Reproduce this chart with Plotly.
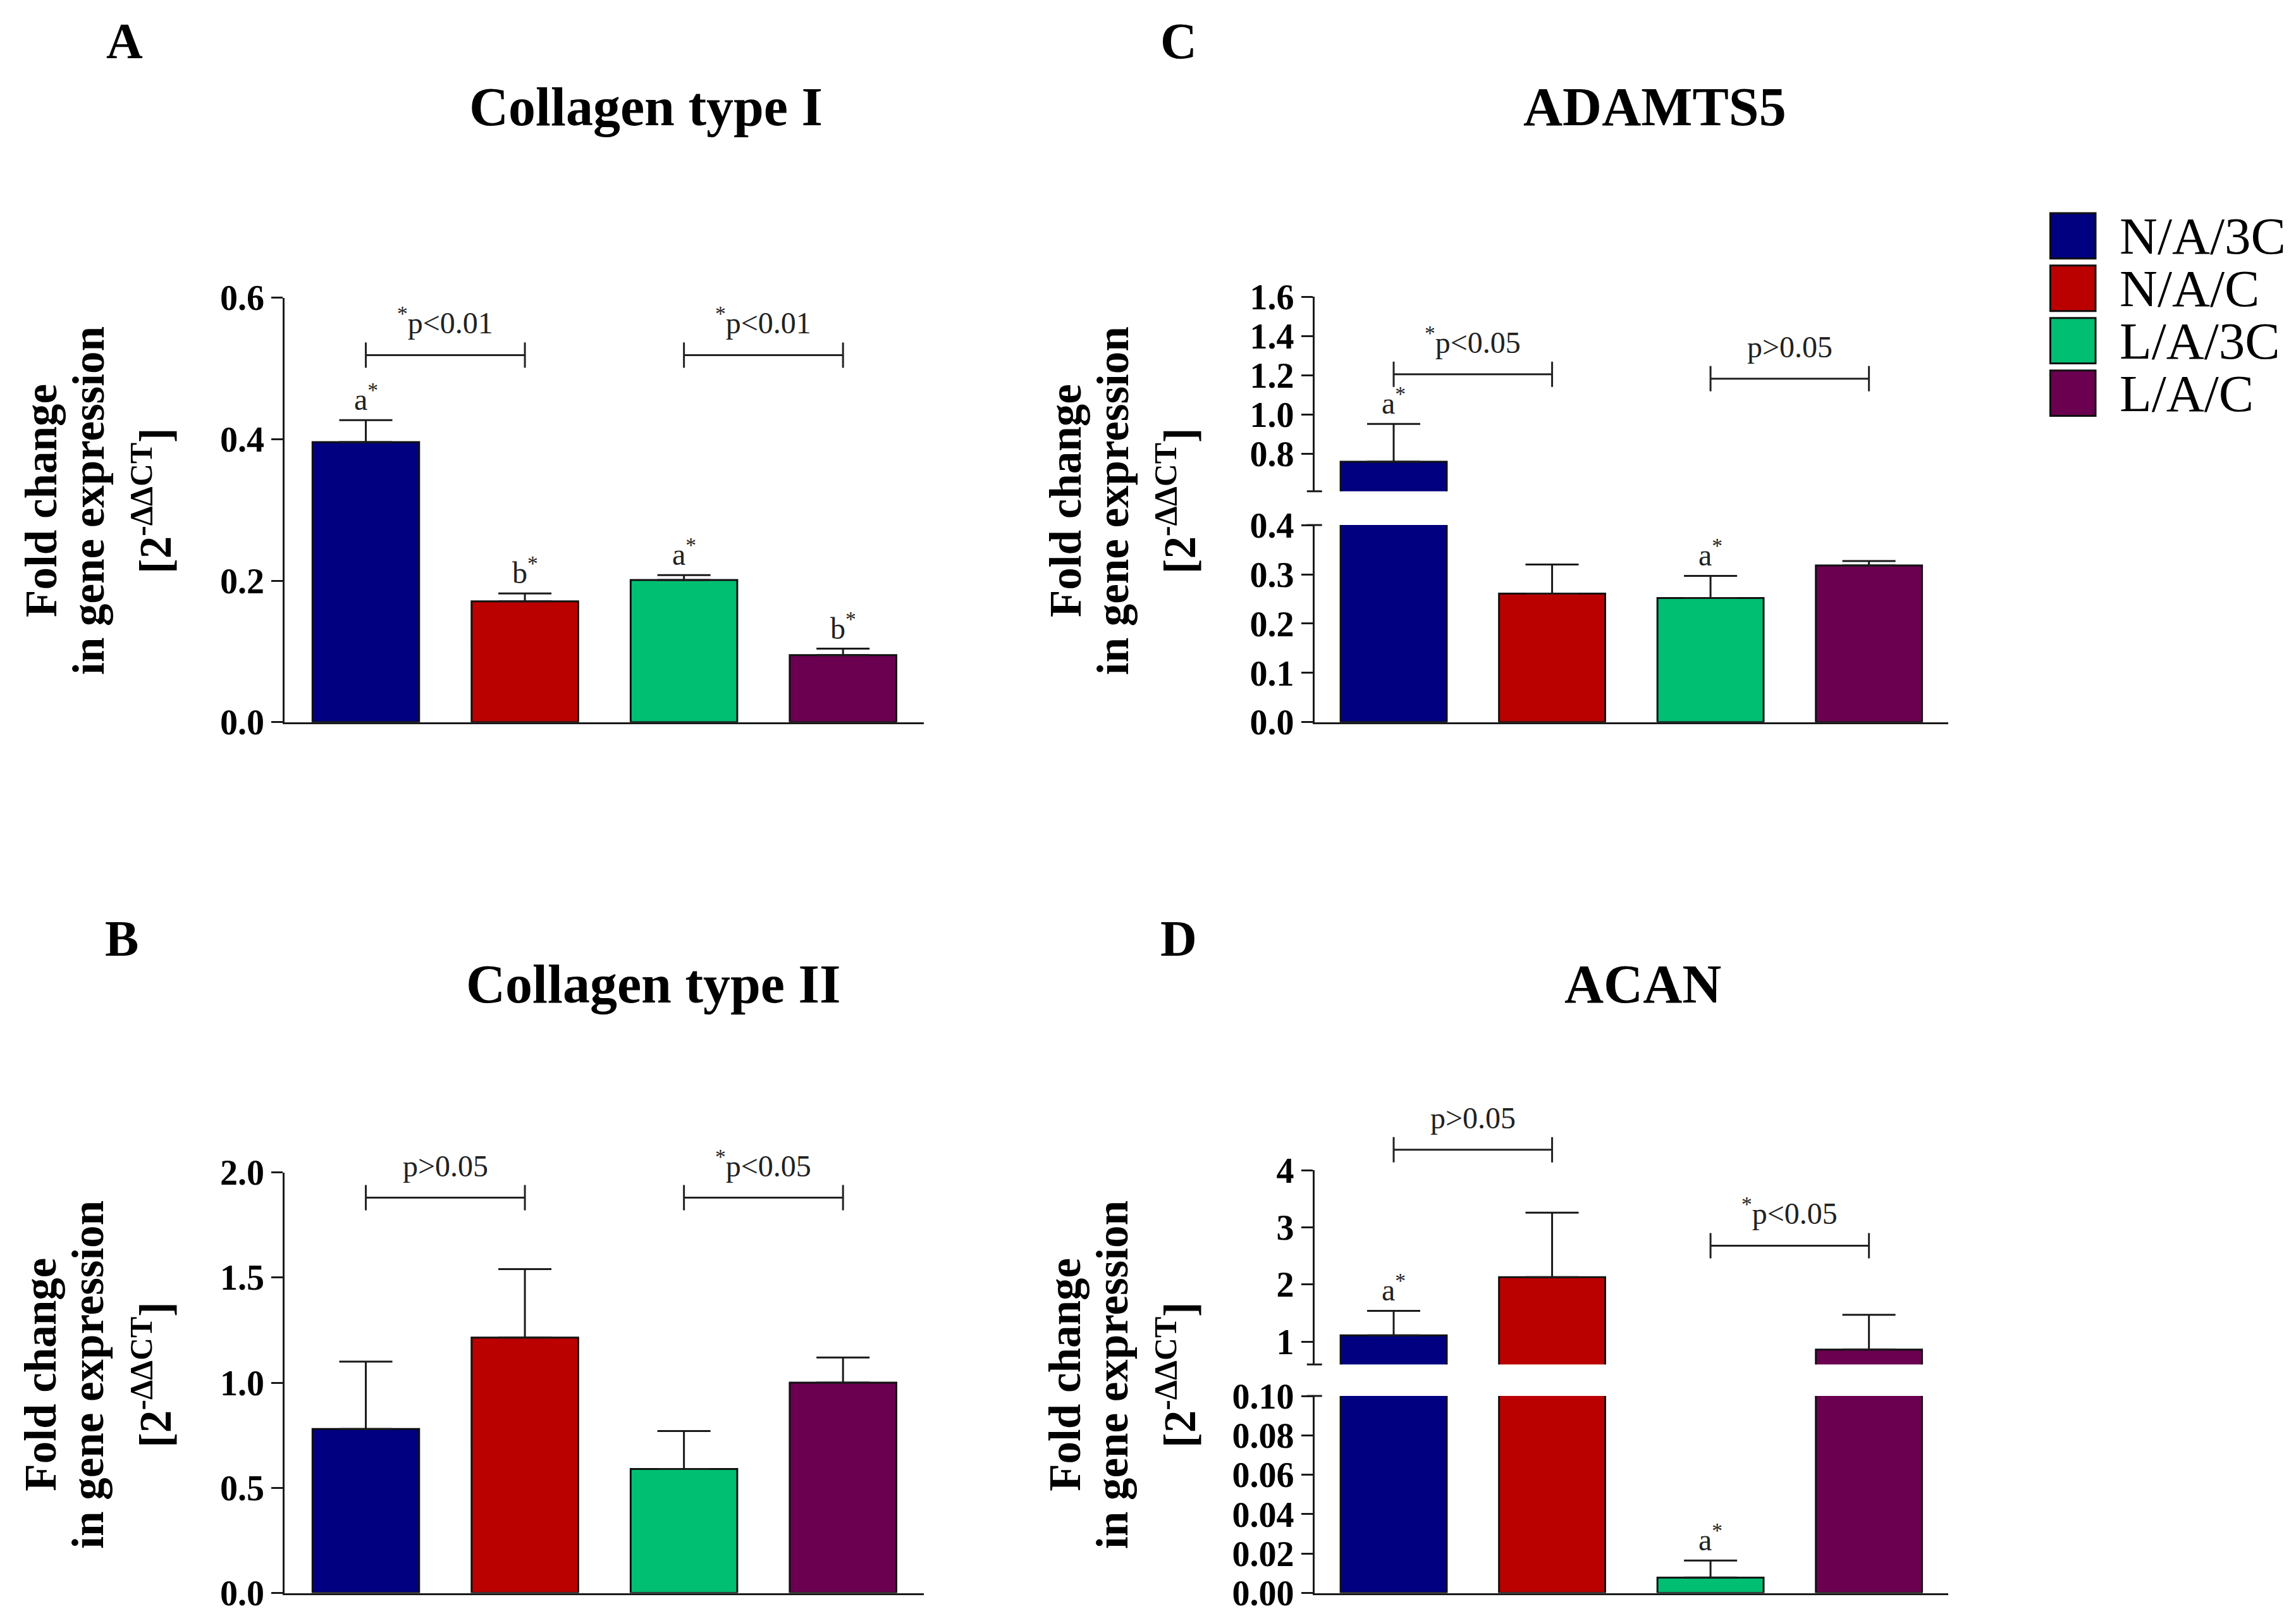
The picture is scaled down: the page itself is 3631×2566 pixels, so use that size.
import plotly.graph_objects as go

# groups and colours
groups = ["N/A/3C", "N/A/C", "L/A/3C", "L/A/C"]
colors = ["#000080", "#BB0000", "#00BF72", "#6B0050"]
positions = [0, 1, 2, 3]

# A - Collagen type I
col1_mean = [0.396, 0.171, 0.201, 0.095]
col1_err = [0.031, 0.011, 0.007, 0.009]
col1_letters = ["a*", "b*", "a*", "b*"]
col1_brackets = [(0, 1, 0.519, "*p<0.01"), (2, 3, 0.519, "*p<0.01")]
col1_ticks = [0.0, 0.2, 0.4, 0.6]

# B - Collagen type II
col2_mean = [0.78, 1.215, 0.59, 1.0]
col2_err = [0.32, 0.325, 0.18, 0.12]
col2_letters = ["", "", "", ""]
col2_brackets = [(0, 1, 1.88, "p>0.05"), (2, 3, 1.88, "*p<0.05")]
col2_ticks = [0.0, 0.5, 1.0, 1.5, 2.0]

# C - ADAMTS5 (broken axis)
adamts5_mean = [0.76, 0.261, 0.252, 0.318]
adamts5_err = [0.193, 0.059, 0.045, 0.009]
adamts5_letters = ["a*", "", "a*", ""]
adamts5_brackets = [(0, 1, 1.205, "*p<0.05"), (2, 3, 1.183, "p>0.05")]
adamts5_ticks_low = [0.0, 0.1, 0.2, 0.3, 0.4]
adamts5_ticks_high = [0.8, 1.0, 1.2, 1.4, 1.6]

# D - ACAN (broken axis)
acan_mean = [1.11, 2.13, 0.0078, 0.86]
acan_err = [0.43, 1.13, 0.0087, 0.61]
acan_letters = ["a*", "", "a*", ""]
acan_brackets = [(0, 1, 4.36, "p>0.05"), (2, 3, 2.68, "*p<0.05")]
acan_ticks_low = [0.0, 0.02, 0.04, 0.06, 0.08, 0.10]
acan_ticks_high = [1, 2, 3, 4]

SERIF = "Liberation Serif"
INK = "#1a1a1a"


def fmt_star(s):
    s = s.replace("<", "&lt;").replace(">", "&gt;")
    if s.startswith("*"):
        s = "<sup>*</sup>" + s[1:]
    if s.endswith("*"):
        s = s[:-1] + "<sup>*</sup>"
    return s


def lay_key(ax):
    return ax[0] + "axis" + ax[1:]


def dom(v, rng):
    return (v - rng[0]) / (rng[1] - rng[0])


fig = go.Figure()
annotations = []
shapes = []


def break_mark(xname, yname, ypos):
    # small tick across the axis line where the axis is broken
    shapes.append(dict(type="line", xref=xname + " domain", yref=yname + " domain",
                       xsizemode="pixel", xanchor=0, x0=-12, x1=12,
                       y0=ypos, y1=ypos, line=dict(color=INK, width=3)))


def add_panel(xname, xdomain, xrange, segments, means, errs, letters, brackets,
              title, title_pos, letter, letter_pos, ytitle_x, ytitle_y):
    # segments: list of (yname, domain, range, tickvals, tickfmt) from bottom up
    low_y = segments[0][0]
    fig.layout[lay_key(xname)] = dict(
        domain=xdomain, range=xrange, anchor=low_y, showline=True,
        linewidth=3, linecolor=INK, ticks="", showticklabels=False,
        showgrid=False, zeroline=False, fixedrange=True, automargin=False,
    )
    for k, (yname, ydomain, yrange, tickvals, tickfmt) in enumerate(segments):
        fig.layout[lay_key(yname)] = dict(
            domain=ydomain, range=yrange, anchor=xname, showline=True,
            linewidth=3, linecolor=INK, ticks="outside", ticklen=18,
            tickwidth=3, tickcolor=INK, tickvals=tickvals,
            ticktext=[tickfmt.format(v) for v in tickvals],
            tickfont=dict(family=SERIF, size=56, color="black", weight="bold"),
            showgrid=False, zeroline=False, fixedrange=True, automargin=False,
        )
        fig.add_trace(go.Bar(
            x=positions, y=means, xaxis=xname, yaxis=yname, width=0.67,
            marker=dict(color=colors, line=dict(color="#111111", width=3)),
            error_y=dict(type="data", array=errs, arrayminus=[0] * len(errs),
                         symmetric=False, color=INK, thickness=3, width=42),
            showlegend=False,
        ))
        if len(segments) > 1:
            if k > 0:
                break_mark(xname, yname, 0)
            if k < len(segments) - 1:
                break_mark(xname, yname, 1)
    # significance letters above the error bars
    for p, m, e, lab in zip(positions, means, errs, letters):
        if not lab:
            continue
        top = m + e
        yname = segments[0][0]
        for seg in segments:
            if seg[2][0] <= top <= seg[2][1]:
                yname = seg[0]
        annotations.append(dict(
            x=p, y=top, xref=xname, yref=yname, text=fmt_star(lab),
            showarrow=False, xanchor="center", yanchor="bottom", yshift=4,
            font=dict(family=SERIF, size=48, color="#222222"),
        ))
    # comparison brackets
    top_seg = segments[-1]
    yref = top_seg[0] + " domain"
    for a, b, h, lab in brackets:
        yd = dom(h, top_seg[2])
        shapes.append(dict(type="line", xref=xname, yref=yref, x0=a, x1=b,
                           y0=yd, y1=yd, line=dict(color="#222222", width=3)))
        for xe in (a, b):
            shapes.append(dict(type="line", xref=xname, yref=yref, x0=xe, x1=xe,
                               ysizemode="pixel", yanchor=yd, y0=-20, y1=20,
                               line=dict(color="#222222", width=3)))
        annotations.append(dict(
            x=(a + b) / 2, y=yd, xref=xname, yref=yref, text=fmt_star(lab),
            showarrow=False, xanchor="center", yanchor="bottom", yshift=22,
            font=dict(family=SERIF, size=48, color="#222222"),
        ))
    # titles
    annotations.append(dict(
        x=title_pos[0], y=title_pos[1], xref="paper", yref="paper", text=title,
        showarrow=False, xanchor="center", yanchor="middle",
        font=dict(family=SERIF, size=86, color="black", weight="bold"),
    ))
    annotations.append(dict(
        x=letter_pos[0], y=letter_pos[1], xref="paper", yref="paper", text=letter,
        showarrow=False, xanchor="center", yanchor="middle",
        font=dict(family=SERIF, size=80, color="black", weight="bold"),
    ))
    lines = ["Fold change", "in gene expression", "[2<sup>-ΔΔCT</sup>]"]
    for lx, txt in zip(ytitle_x, lines):
        annotations.append(dict(
            x=lx, y=ytitle_y, xref="paper", yref="paper", text=txt,
            textangle=-90, showarrow=False, xanchor="center", yanchor="middle",
            font=dict(family=SERIF, size=71, color="black", weight="bold"),
        ))


left_x = [0.124, 0.4025]
right_x = [0.5725, 0.8485]
left_titles = [0.0177, 0.0384, 0.0662]
right_titles = [t + 0.4462 for t in left_titles]

add_panel("x", left_x, [-0.51, 3.51],
          [("y", [0.555, 0.8165], [0, 0.6], col1_ticks, "{:.1f}")],
          col1_mean, col1_err, col1_letters, col1_brackets,
          "Collagen type I", (0.2813, 0.934), "A", (0.0542, 0.9747),
          left_titles, 0.6915)

add_panel("x2", left_x, [-0.51, 3.51],
          [("y2", [0.0185, 0.2776], [0, 2.0], col2_ticks, "{:.1f}")],
          col2_mean, col2_err, col2_letters, col2_brackets,
          "Collagen type II", (0.2844, 0.3935), "B", (0.0529, 0.4215),
          left_titles, 0.153)

add_panel("x3", right_x, [-0.5, 3.5],
          [("y3", [0.555, 0.6765], [0, 0.4], adamts5_ticks_low, "{:.1f}"),
           ("y5", [0.6973, 0.8172], [0.61, 1.6], adamts5_ticks_high, "{:.1f}")],
          adamts5_mean, adamts5_err, adamts5_letters, adamts5_brackets,
          "ADAMTS5", (0.7207, 0.934), "C", (0.5134, 0.9747),
          right_titles, 0.6915)

add_panel("x4", right_x, [-0.5, 3.5],
          [("y4", [0.0185, 0.1399], [0, 0.1], acan_ticks_low, "{:.2f}"),
           ("y6", [0.1593, 0.2789], [0.6, 4], acan_ticks_high, "{:.0f}")],
          acan_mean, acan_err, acan_letters, acan_brackets,
          "ACAN", (0.7156, 0.3935), "D", (0.5134, 0.4215),
          right_titles, 0.153)

# legend drawn by hand so the swatches can be large
for i, (g, c) in enumerate(zip(groups, colors)):
    yc = 1 - (161 + 35.8 * i) / 1108
    shapes.append(dict(type="rect", xref="paper", yref="paper",
                       x0=0.893, x1=0.9127, y0=yc - 0.014, y1=yc + 0.014,
                       fillcolor=c, line=dict(color="#111111", width=3)))
    annotations.append(dict(
        x=0.9225, y=yc, xref="paper", yref="paper", text=g, showarrow=False,
        xanchor="left", yanchor="middle",
        font=dict(family=SERIF, size=83, color="black"),
    ))

fig.update_layout(
    width=3631, height=2566,
    margin=dict(l=0, r=0, t=0, b=0, pad=0, autoexpand=False),
    paper_bgcolor="white", plot_bgcolor="white",
    font=dict(family=SERIF, color="black"),
    annotations=annotations, shapes=shapes,
    showlegend=False,
)

fig.write_html("out.html", config={"displayModeBar": False},
               post_script="document.body.style.margin = '0';")
